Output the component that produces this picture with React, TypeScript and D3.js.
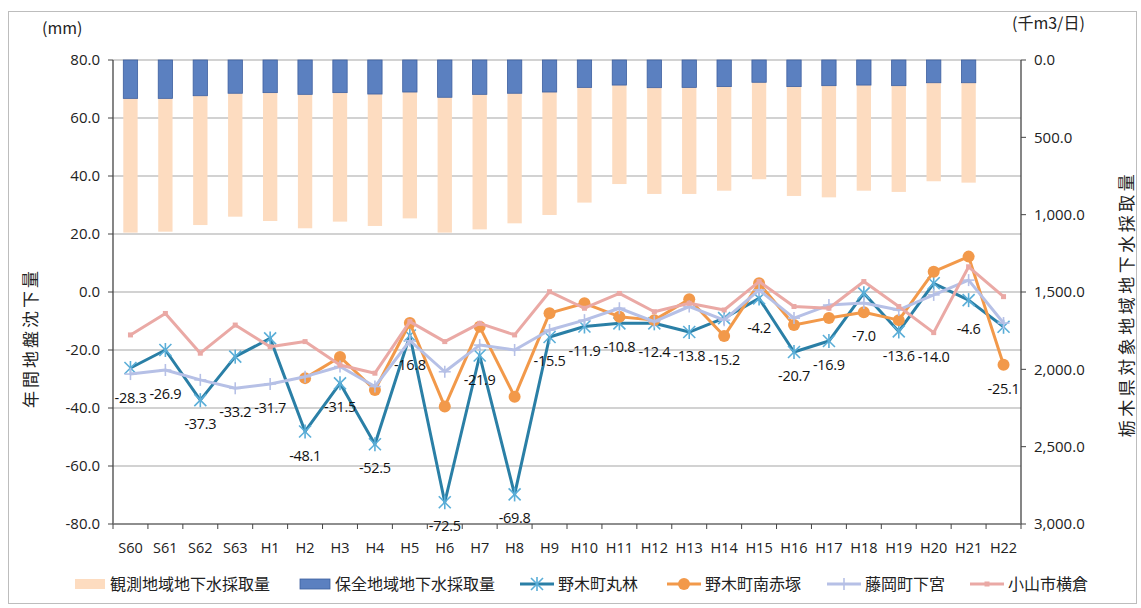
import React from "react";
import * as d3 from "d3";

const categories = ["S60","S61","S62","S63","H1","H2","H3","H4","H5","H6","H7","H8","H9","H10","H11","H12","H13","H14","H15","H16","H17","H18","H19","H20","H21","H22"];

// 千m3/日
const conservation = [248,248,231,215,211,222,211,220,207,241,222,215,207,177,162,179,177,172,144,172,166,162,166,147,147,null];
const observed = [868,862,836,798,830,866,834,853,817,875,873,841,795,745,640,687,689,673,627,707,722,683,687,637,646,null];

// mm
const marubayashi = [-26.2,-20.0,-37.3,-22.3,-16.0,-48.1,-31.5,-52.5,-15.0,-72.5,-21.9,-69.8,-15.5,-11.9,-10.8,-10.8,-13.8,-9.0,-2.2,-20.7,-16.9,-0.4,-13.6,3.0,-2.8,-12.0];
const minamiakatsuka = [null,null,null,null,null,-29.7,-22.4,-33.8,-10.7,-39.5,-12.0,-36.1,-7.3,-3.9,-8.5,-9.7,-2.5,-15.2,3.0,-11.4,-9.0,-7.0,-9.7,7.0,12.2,-25.1];
const shimomiya = [-28.3,-26.9,-30.3,-33.2,-31.7,-29.2,-25.7,-32.6,-16.8,-27.5,-18.3,-20.0,-13.1,-9.7,-5.6,-10.2,-5.0,-9.7,0.7,-9.0,-4.5,-3.8,-6.2,-1.0,4.1,-10.7];
const yokokura = [-14.8,-7.4,-21.1,-11.4,-18.9,-17.1,-25.2,-28.0,-10.2,-17.1,-10.8,-14.8,0.1,-5.6,-0.5,-6.8,-3.9,-6.2,3.6,-5.0,-5.6,3.6,-5.0,-14.0,8.7,-1.6];

const dataLabels = [-28.3,-26.9,-37.3,-33.2,-31.7,-48.1,-31.5,-52.5,-16.8,-72.5,-21.9,-69.8,-15.5,-11.9,-10.8,-12.4,-13.8,-15.2,-4.2,-20.7,-16.9,-7.0,-13.6,-14.0,-4.6,-25.1];

const leftTicks = [80,60,40,20,0,-20,-40,-60,-80];
const rightTicks = [0,500,1000,1500,2000,2500,3000];

const JP = "'Noto Sans CJK JP', 'Noto Sans', sans-serif";
const NUM = "'Open Sans', 'Noto Sans', sans-serif";

const C = {
  peach: "#fddcc0",
  blue: "#5b80c0",
  blueEdge: "#3e5f9f",
  teal: "#2a7fa6",
  tealMark: "#5aaed8",
  orange: "#f2994a",
  lavender: "#b6c0e6",
  pink: "#eaa9a5",
  grid: "#a6a6a6",
};

const fmt1 = (v: number) => d3.format(".1f")(v).replace("\u2212", "-");
const fmtR = (v: number) => d3.format(",.1f")(v).replace("\u2212", "-");

function Asterisk({ x, y, s = 6, color }: { x: number; y: number; s?: number; color: string }) {
  return (
    <g stroke={color} strokeWidth={1.6}>
      <line x1={x - s} y1={y - s} x2={x + s} y2={y + s} />
      <line x1={x - s} y1={y + s} x2={x + s} y2={y - s} />
      <line x1={x} y1={y - s - 1} x2={x} y2={y + s + 1} />
    </g>
  );
}

function Plus({ x, y, s = 6, color }: { x: number; y: number; s?: number; color: string }) {
  return (
    <g stroke={color} strokeWidth={1.6}>
      <line x1={x} y1={y - s} x2={x} y2={y + s} />
      <line x1={x - s} y1={y} x2={x + s} y2={y} />
    </g>
  );
}

export default function App() {
  const W = 1141, H = 608;
  const left = 113, right = 1021, top = 60, bottom = 524;
  const x = d3.scaleBand<string>().domain(categories).range([left, right]).paddingInner(0).paddingOuter(0);
  const bw = x.bandwidth();
  const cx = (i: number) => (x(categories[i]) as number) + bw / 2;
  const yL = d3.scaleLinear().domain([-80, 80]).range([bottom, top]);
  const yR = d3.scaleLinear().domain([0, 3000]).range([top, bottom]);
  const barW = bw * 0.41;

  const line = d3
    .line<number | null>()
    .defined((d) => d !== null)
    .x((_, i) => cx(i))
    .y((d) => yL(d as number));

  const series = [
    { name: "野木町丸林", data: marubayashi, color: C.teal, mark: "ast" },
    { name: "野木町南赤塚", data: minamiakatsuka, color: C.orange, mark: "circle" },
    { name: "藤岡町下宮", data: shimomiya, color: C.lavender, mark: "plus" },
    { name: "小山市横倉", data: yokokura, color: C.pink, mark: "none" },
  ];

  const drawMark = (mark: string, px: number, py: number, color: string, key: string | number) => {
    if (mark === "ast") return <Asterisk key={key} x={px} y={py} color={C.tealMark} />;
    if (mark === "circle") return <circle key={key} cx={px} cy={py} r={6} fill={color} />;
    if (mark === "plus") return <Plus key={key} x={px} y={py} color={color} />;
    return <rect key={key} x={px - 2.5} y={py - 2.5} width={5} height={5} fill={color} />;
  };

  const legend = [
    { kind: "bar", color: C.peach, label: "観測地域地下水採取量", sx: 75, tx: 110 },
    { kind: "bar", color: C.blue, label: "保全地域地下水採取量", sx: 300, tx: 335 },
    { kind: "line", s: 0, label: "野木町丸林", sx: 520, tx: 558 },
    { kind: "line", s: 1, label: "野木町南赤塚", sx: 667, tx: 705 },
    { kind: "line", s: 2, label: "藤岡町下宮", sx: 827, tx: 865 },
    { kind: "line", s: 3, label: "小山市横倉", sx: 970, tx: 1008 },
  ];
  const ly = 584;

  return (
    <svg width={W} height={H} style={{ position: "absolute", left: 0, top: 0, background: "#fff" }}>
      <rect x={8.5} y={11.5} width={1128} height={592} fill="#fff" stroke="#bdbdbd" strokeWidth={1} />

      {/* grid */}
      {leftTicks.map((t) => (
        <line key={t} x1={left} x2={right} y1={yL(t)} y2={yL(t)} stroke={C.grid} strokeWidth={1.2} />
      ))}

      {/* bars */}
      {categories.map((c, i) => {
        if (conservation[i] === null) return null;
        const b = conservation[i] as number;
        const o = observed[i] as number;
        const bx = cx(i) - barW / 2;
        return (
          <g key={c}>
            <rect x={bx} y={yR(b)} width={barW} height={yR(b + o) - yR(b)} fill={C.peach} />
            <rect x={bx} y={yR(0)} width={barW} height={yR(b) - yR(0)} fill={C.blue} stroke={C.blueEdge} strokeWidth={0.8} />
          </g>
        );
      })}

      {/* axes */}
      <line x1={left} x2={left} y1={top} y2={bottom} stroke="#444" strokeWidth={1.3} />
      <line x1={right} x2={right} y1={top} y2={bottom} stroke="#444" strokeWidth={1.3} />
      <line x1={left} x2={right} y1={bottom} y2={bottom} stroke="#777" strokeWidth={1.3} />
      {leftTicks.map((t) => (
        <g key={"lt" + t}>
          <line x1={left - 5} x2={left} y1={yL(t)} y2={yL(t)} stroke="#444" />
          <text x={100} y={yL(t)} dy="0.35em" textAnchor="end" fontFamily={NUM} fontSize={15} fill="#222">
            {fmt1(t)}
          </text>
        </g>
      ))}
      {rightTicks.map((t) => (
        <g key={"rt" + t}>
          <line x1={right} x2={right + 5} y1={yR(t)} y2={yR(t)} stroke="#444" />
          <text x={1034} y={yR(t)} dy="0.35em" textAnchor="start" fontFamily={NUM} fontSize={15} fill="#222">
            {fmtR(t)}
          </text>
        </g>
      ))}
      {categories.map((c, i) => (
        <g key={"xt" + c}>
          <line x1={x(c) as number} x2={x(c) as number} y1={bottom} y2={bottom + 5} stroke="#444" />
          <text x={cx(i)} y={548} dy="0.35em" textAnchor="middle" fontFamily={NUM} fontSize={14.5} fill="#222">
            {c}
          </text>
        </g>
      ))}
      <line x1={right} x2={right} y1={bottom} y2={bottom + 5} stroke="#444" />

      {/* lines */}
      {series.map((s) => (
        <g key={s.name}>
          <path d={line(s.data) || ""} fill="none" stroke={s.color} strokeWidth={3} strokeLinejoin="round" />
          {s.data.map((v, i) => (v === null ? null : drawMark(s.mark, cx(i), yL(v), s.color, i)))}
        </g>
      ))}

      {/* data labels */}
      {dataLabels.map((v, i) => (
        <text key={"dl" + i} x={cx(i)} y={yL(v) + 24} dy="0.35em" textAnchor="middle" fontFamily={NUM} fontSize={14.5} letterSpacing={-0.3} fill="#111">
          {fmt1(v)}
        </text>
      ))}

      {/* units */}
      <text x={42} y={34} fontFamily={JP} fontSize={16} fill="#222">(mm)</text>
      <text x={1012} y={29} fontFamily={JP} fontSize={16} fill="#222">(千m3/日)</text>

      {/* axis titles */}
      <text transform="translate(37,338) rotate(-90)" textAnchor="middle" fontFamily={JP} fontSize={17} letterSpacing={3} fill="#222">
        年間地盤沈下量
      </text>
      <text transform="translate(1133,304) rotate(-90)" textAnchor="middle" fontFamily={JP} fontSize={17} letterSpacing={3.5} fill="#222">
        栃木県対象地域地下水採取量
      </text>

      {/* legend */}
      {legend.map((l, k) => (
        <g key={"lg" + k}>
          {l.kind === "bar" ? (
            <rect x={l.sx} y={ly - 5} width={30} height={10} fill={l.color} stroke={l.color === C.blue ? C.blueEdge : "none"} strokeWidth={0.8} />
          ) : (
            <g>
              <line x1={l.sx} x2={l.sx + 34} y1={ly} y2={ly} stroke={series[l.s as number].color} strokeWidth={3} />
              {drawMark(series[l.s as number].mark, l.sx + 17, ly, series[l.s as number].color, "m")}
            </g>
          )}
          <text x={l.tx} y={ly} dy="0.35em" fontFamily={JP} fontSize={16} fill="#222">
            {l.label}
          </text>
        </g>
      ))}
    </svg>
  );
}
